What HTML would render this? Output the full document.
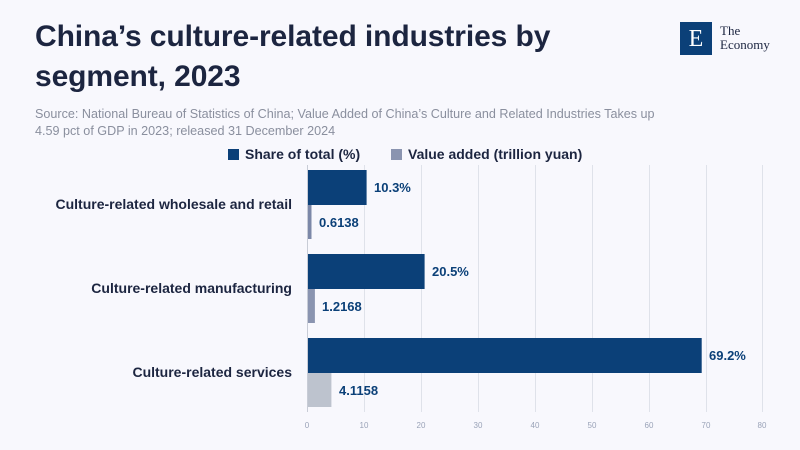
<!DOCTYPE html>
<html><head><meta charset="utf-8"><style>
body{margin:0;width:800px;height:450px;background:#f8f8fd;font-family:"Liberation Sans",sans-serif;position:relative;overflow:hidden}
.t{position:absolute;left:35px;top:17px;font-size:30px;font-weight:bold;color:#1c2540;line-height:40px;letter-spacing:-0.1px}
.s{position:absolute;left:35px;top:106px;font-size:12.6px;color:#8a8f9e;line-height:17px;width:620px}
.lg{position:absolute;top:146px;font-size:14px;font-weight:bold;color:#1c2540}
.lg i{display:inline-block;width:11px;height:11px;margin-right:6px;vertical-align:-1px}
.cat{position:absolute;right:508px;font-size:14px;font-weight:bold;color:#1c2540;white-space:nowrap}
.v{position:absolute;font-size:13px;font-weight:bold;color:#0b4078}
.tk{position:absolute;top:421px;font-size:8px;color:#9aa3b8;transform:translateX(-50%)}
</style></head><body>
<div class="t">China’s culture-related industries by<br>segment, 2023</div>
<div style="position:absolute;left:680px;top:22px;width:32px;height:33px;background:#0b4078;color:#fff;font-family:'Liberation Serif',serif;font-size:24px;text-align:center;line-height:34px">E</div>
<div style="position:absolute;left:720px;top:24px;font-family:'Liberation Serif',serif;font-size:13px;line-height:14px;color:#1c2540">The<br>Economy</div>
<div class="s">Source: National Bureau of Statistics of China; Value Added of China’s Culture and Related Industries Takes up 4.59 pct of GDP in 2023; released 31 December 2024</div>
<div class="lg" style="left:228px"><i style="background:#0b4078"></i>Share of total (%)</div>
<div class="lg" style="left:391px"><i style="background:#8a94b0"></i>Value added (trillion yuan)</div>
<svg style="position:absolute;left:0;top:0" width="800" height="450">
<g stroke="#dfe2ea" stroke-width="1">
<line x1="364.5" y1="165" x2="364.5" y2="412"/><line x1="421.5" y1="165" x2="421.5" y2="412"/><line x1="478.5" y1="165" x2="478.5" y2="412"/><line x1="535.5" y1="165" x2="535.5" y2="412"/><line x1="592.5" y1="165" x2="592.5" y2="412"/><line x1="649.5" y1="165" x2="649.5" y2="412"/><line x1="706.5" y1="165" x2="706.5" y2="412"/><line x1="762.5" y1="165" x2="762.5" y2="412"/>
</g>
<line x1="307.5" y1="165" x2="307.5" y2="412" stroke="#c8ccd6"/>
<rect x="308" y="170" width="58.6" height="35" fill="#0b4078"/>
<rect x="308" y="205" width="3.5" height="34" fill="#7c88a8"/>
<rect x="308" y="254" width="116.6" height="35" fill="#0b4078"/>
<rect x="308" y="289" width="6.9" height="34" fill="#8a94b0"/>
<rect x="308" y="338" width="393.7" height="35" fill="#0b4078"/>
<rect x="308" y="373" width="23.4" height="34" fill="#bdc3ce"/>
</svg>
<div class="cat" style="top:196px">Culture-related wholesale and retail</div>
<div class="cat" style="top:280px">Culture-related manufacturing</div>
<div class="cat" style="top:364px">Culture-related services</div>
<div class="v" style="left:374px;top:180px">10.3%</div>
<div class="v" style="left:319px;top:215px">0.6138</div>
<div class="v" style="left:432px;top:264px">20.5%</div>
<div class="v" style="left:322px;top:299px">1.2168</div>
<div class="v" style="left:709px;top:348px">69.2%</div>
<div class="v" style="left:339px;top:383px">4.1158</div>
<div class="tk" style="left:307px">0</div><div class="tk" style="left:364px">10</div><div class="tk" style="left:421px">20</div><div class="tk" style="left:478px">30</div><div class="tk" style="left:535px">40</div><div class="tk" style="left:592px">50</div><div class="tk" style="left:649px">60</div><div class="tk" style="left:706px">70</div><div class="tk" style="left:762px">80</div>
</body></html>
